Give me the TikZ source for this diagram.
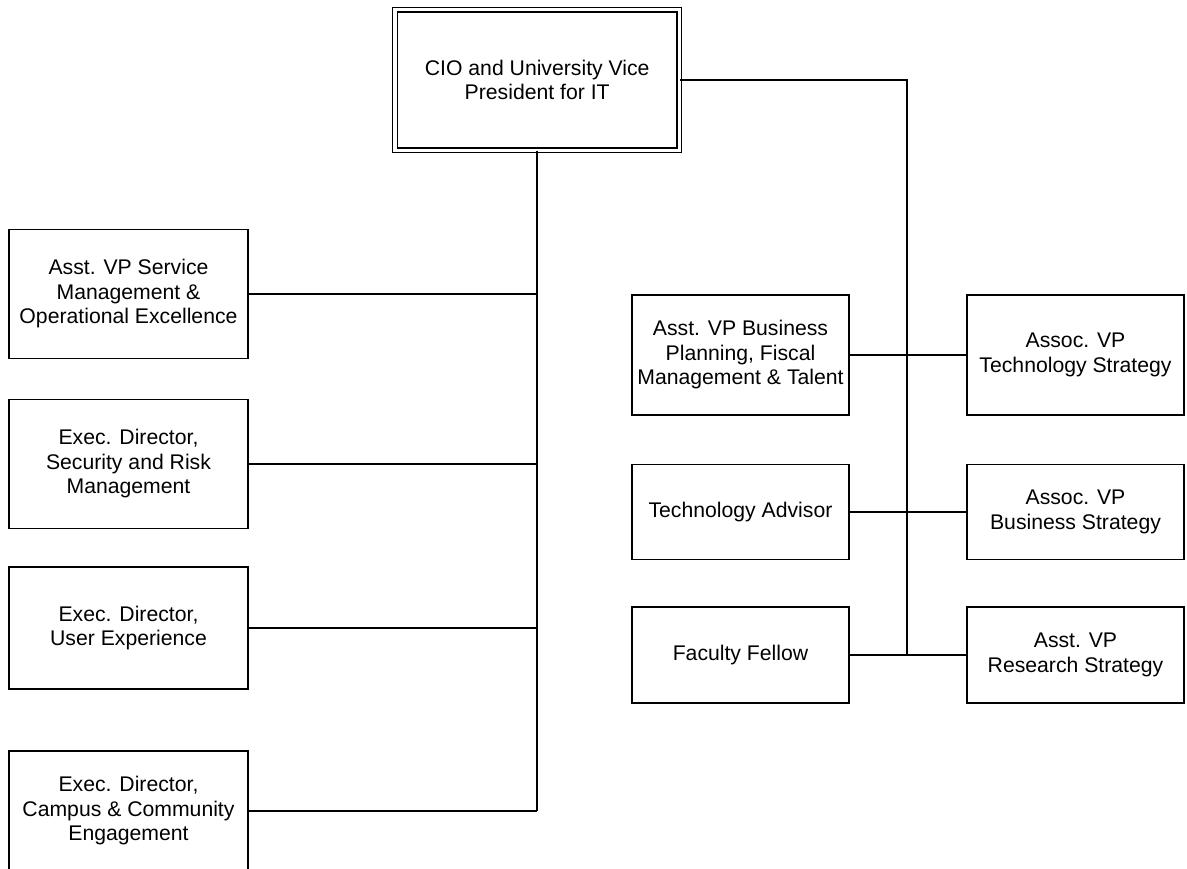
\documentclass[tikz,border=0pt]{standalone}
\usepackage{fontspec}
\setmainfont{Liberation Sans}
\begin{document}
\begin{tikzpicture}[x=1pt,y=-1pt,
  box/.style={draw=black,line width=1.7pt,rectangle,minimum width=217pt,align=center,
    font=\fontsize{21.2}{24.5}\selectfont,inner sep=1pt},
  lbox/.style={box,minimum width=239pt},
  topbox/.style={box,double,double distance=3.2pt,line width=1.4pt,minimum width=284.5pt,minimum height=140.5pt},
  link/.style={line width=1.7pt}]
\useasboundingbox (0,0) rectangle (1187,869);
\clip (0,0) rectangle (1187,869);
\fill[white] (0,0) rectangle (1187,869);
% top
\node[topbox] (cio) at (537.2,80) {CIO and University Vice\\President for IT};
% left column
\node[lbox,minimum height=129pt] (l1) at (128.5,294) {Asst. VP Service\\Management \&\\Operational Excellence};
\node[lbox,minimum height=129pt] (l2) at (128.5,464) {Exec. Director,\\Security and Risk\\Management};
\node[lbox,minimum height=122pt] (l3) at (128.5,628) {Exec. Director,\\User Experience};
\node[lbox,minimum height=120pt] (l4) at (128.5,811) {Exec. Director,\\Campus \& Community\\Engagement};
% middle column
\node[box,minimum height=120pt] (m1) at (740.5,355) {Asst. VP Business\\Planning, Fiscal\\Management \& Talent};
\node[box,minimum height=95pt] (m2) at (740.5,512) {Technology Advisor};
\node[box,minimum height=96pt] (m3) at (740.5,655) {Faculty Fellow};
% right column
\node[box,minimum height=120pt] (r1) at (1075.5,355) {Assoc. VP\\Technology Strategy};
\node[box,minimum height=95pt] (r2) at (1075.5,512) {Assoc. VP\\Business Strategy};
\node[box,minimum height=96pt] (r3) at (1075.5,655) {Asst. VP\\Research Strategy};
% coordinates
\coordinate (tl) at (cio.south |- l4.east);
\coordinate (tr) at (907,80);
\coordinate (tb) at (907,655);
% left trunk
\draw[link] (cio.south) -- (tl);
\draw[link] (l1.east) -- (cio.south |- l1.east);
\draw[link] (l2.east) -- (cio.south |- l2.east);
\draw[link] (l3.east) -- (cio.south |- l3.east);
\draw[link] (l4.east) -- (tl);
% right trunk
\draw[link] (cio.east |- tr) -- (tr) -- (tb);
\draw[link] (m1.east) -- (r1.west);
\draw[link] (m2.east) -- (r2.west);
\draw[link] (m3.east) -- (r3.west);
\end{tikzpicture}
\end{document}
